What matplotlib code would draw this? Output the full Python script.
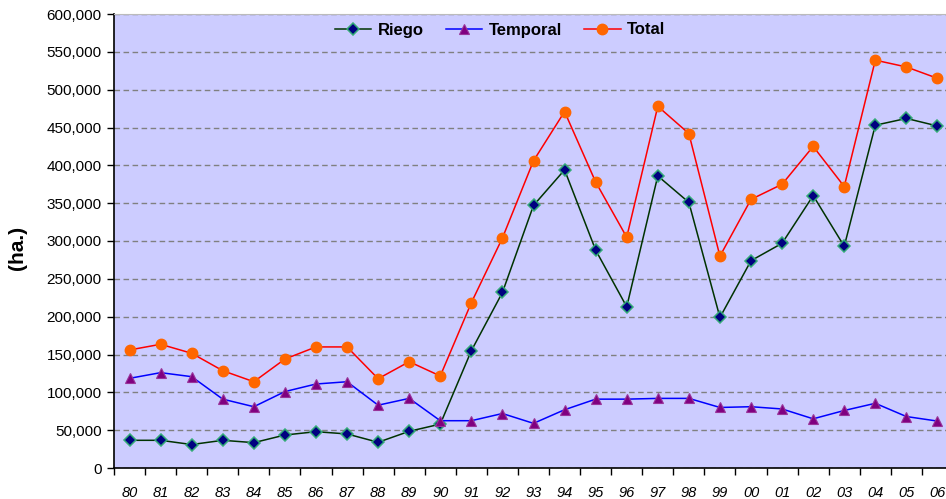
import matplotlib
matplotlib.use("Agg")
import matplotlib.pyplot as plt
from matplotlib.ticker import FuncFormatter, FixedLocator
import numpy as np

plt.rcParams['font.family'] = ['Liberation Sans', 'DejaVu Sans']

years = ["80", "81", "82", "83", "84", "85", "86", "87", "88", "89", "90",
         "91", "92", "93", "94", "95", "96", "97", "98", "99", "00", "01",
         "02", "03", "04", "05", "06"]

riego = [36600, 36600, 31000, 36600, 33500, 43600, 48000, 45000, 34000, 48500,
         58000, 155000, 232000, 347000, 394000, 288000, 213000, 386000, 351000,
         199000, 274000, 297000, 360000, 293000, 453000, 462000, 452000]

temporal = [118500, 126000, 120700, 91000, 81000, 101000, 111000, 114000, 83000,
            92000, 62500, 62500, 72000, 59000, 77000, 91000, 91000, 92000, 92000,
            80000, 81000, 78000, 65000, 76000, 85500, 68000, 62000]

total = [156000, 163500, 151600, 128600, 114000, 144000, 160000, 160000, 118000,
         140500, 121600, 218500, 304000, 406000, 471000, 378000, 305000, 478000,
         442000, 280000, 355000, 375000, 425000, 372000, 539000, 530000, 515000]

fig = plt.figure(figsize=(9.46, 4.99), dpi=100)
ax = fig.add_axes([114/946, 1 - 468/499, (953 - 114)/946, (468 - 14)/499])
ax.set_facecolor('#CCCCFF')

x = np.arange(len(years))

ax.plot(x, riego, color='#003300', lw=1.1, marker='D', markersize=6,
        markerfacecolor='#000080', markeredgecolor='#33AA77', markeredgewidth=1.1,
        label='Riego', zorder=3)
ax.plot(x, temporal, color='#0000FF', lw=1.1, marker='^', markersize=7.5,
        markerfacecolor='#800080', markeredgecolor='#993399', markeredgewidth=0.8,
        label='Temporal', zorder=3)
ax.plot(x, total, color='#FF0000', lw=1.1, marker='o', markersize=7.5,
        markerfacecolor='#FF6600', markeredgecolor='#FF6600',
        label='Total', zorder=3)

ax.set_xlim(-0.5, len(years) - 0.5)
ax.set_ylim(0, 600000)
ax.set_yticks(np.arange(0, 600001, 50000))
ax.yaxis.set_major_formatter(FuncFormatter(lambda v, p: f"{int(v):,}"))
ax.yaxis.grid(True, linestyle=(0, (4, 2.5)), color='#808080', lw=1.0)
ax.set_axisbelow(True)

ax.set_xticks(x)
ax.set_xticklabels(years, fontstyle='italic', fontsize=10.5)
ax.xaxis.set_minor_locator(FixedLocator(np.arange(-0.5, len(years), 1.0)))
ax.tick_params(axis='x', which='major', length=0, pad=13)
ax.tick_params(axis='x', which='minor', length=5, width=1, direction='out', color='black')
ax.tick_params(axis='y', length=5, width=1, direction='out', labelsize=11, pad=4)

ax.spines['right'].set_visible(False)
ax.spines['top'].set_color('#BBBBBB')
ax.spines['top'].set_linestyle((0, (4, 1)))
ax.spines['left'].set_color('black')
ax.spines['bottom'].set_color('black')
ax.spines['left'].set_linewidth(1.2)
ax.spines['bottom'].set_linewidth(1.2)

fig.text(18/946, 1 - 248/499, '(ha.)', rotation=90, fontsize=15, fontweight='bold',
         ha='center', va='center')

leg = fig.legend(loc='center', bbox_to_anchor=(500/946, 1 - 30/499), ncol=3,
                 frameon=False, prop={'weight': 'bold', 'size': 12},
                 handlelength=2.2, columnspacing=1.3, handletextpad=0.4)

fig.savefig('out.png', dpi=100)
